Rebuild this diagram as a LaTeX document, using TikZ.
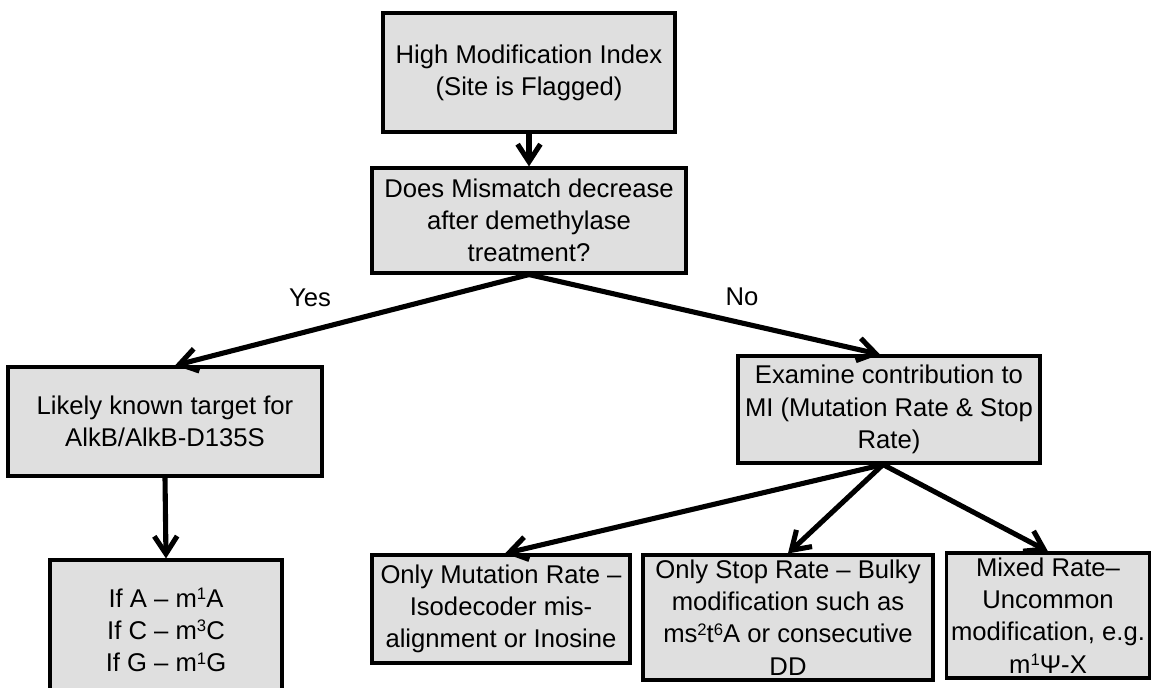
\documentclass[tikz,border=0pt]{standalone}
\usepackage{fontspec}
\setmainfont{Liberation Sans}
\usetikzlibrary{arrows.meta}

\newcommand{\supnum}[1]{\raisebox{0.55ex}{\fontsize{9.5}{9.5}\selectfont #1}}

\tikzset{
  stepbox/.style={draw, line width=1.8pt, fill=boxgray, inner sep=0pt,
    align=center, font=\fontsize{14.6}{18.3}\selectfont},
  flow/.style={line width=2.9pt, -{Straight Barb[length=10pt,width=13pt]}},
  answer/.style={font=\fontsize{14.6}{18.3}\selectfont}
}
\definecolor{boxgray}{RGB}{223,223,223}

\begin{document}
\begin{tikzpicture}[x=0.02cm, y=-0.02cm]

    \useasboundingbox (0,0) rectangle (1151,688);

    \node[stepbox, minimum width=5.84cm, minimum height=2.38cm] (flagged) at (529,72.5)
      {High Modification Index\\(Site is Flagged)};

    \node[stepbox, minimum width=6.28cm, minimum height=2.1cm] (question) at (529,220.5)
      {Does Mismatch decrease\\after demethylase\\treatment?};

    \node[stepbox, minimum width=6.28cm, minimum height=2.18cm] (known) at (165,421.5)
      {Likely known target for\\AlkB/AlkB-D135S};

    \node[stepbox, minimum width=4.64cm, minimum height=2.8cm] (methyl) at (166,630)
      {If A -- m\supnum{1}A\\If C -- m\supnum{3}C\\If G -- m\supnum{1}G};

    \node[stepbox, minimum width=6.04cm, minimum height=2.14cm] (examine) at (889,409.5)
      {Examine contribution to\\MI (Mutation Rate \& Stop\\Rate)};

    \node[stepbox, minimum width=5.16cm, minimum height=2.16cm] (mutonly) at (501,609)
      {Only Mutation Rate --\\Isodecoder mis-\\alignment or Inosine};

    \node[stepbox, minimum width=5.8cm, minimum height=2.5cm] (stoponly) at (788,617.5)
      {Only Stop Rate -- Bulky\\modification such as\\ms\supnum{2}t\supnum{6}A or consecutive\\DD};

    \node[stepbox, minimum width=4.06cm, minimum height=2.5cm] (mixed) at (1048,615.5)
      {Mixed Rate--\\Uncommon\\modification, e.g.\\m\supnum{1}Ψ-X};

    \node[answer] (yes) at (310,298) {Yes};
    \node[answer] (no) at (742,297) {No};

    \draw[flow] (flagged.south) -- (question.north);
    \draw[flow] (question.south) -- ([xshift=0.2cm]known.north);
    \draw[flow] (question.south) -- ([xshift=-0.18cm]examine.north);
    \draw[flow] (known.south) -- (methyl.north);
    \draw[flow] ([xshift=-0.12cm]examine.south) -- ([xshift=0.08cm]mutonly.north);
    \draw[flow] ([xshift=-0.12cm]examine.south) -- (stoponly.north);
    \draw[flow] ([xshift=-0.12cm]examine.south) -- (mixed.north);

\end{tikzpicture}
\end{document}
